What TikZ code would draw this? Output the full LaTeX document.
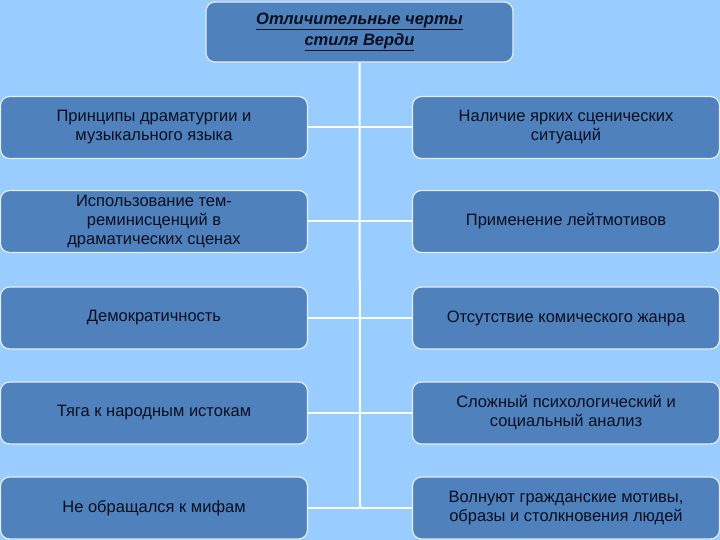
\documentclass[tikz,border=0pt]{standalone}
\usepackage{fontspec}
\setmainfont{Liberation Sans}
\definecolor{bg}{HTML}{99CCFF}
\definecolor{bx}{HTML}{4F81BD}
\definecolor{tx}{HTML}{0A0F20}
\begin{document}
\begin{tikzpicture}[x=1pt,y=-1pt,
 box/.style={draw=white!85!bx,line width=1.2pt,fill=bx,rounded corners=9pt,minimum width=307pt,minimum height=62pt,align=center,text=tx,font=\fontsize{16.5}{19}\selectfont,inner sep=1pt},
 conn/.style={white,line width=2pt}]
\fill[bg] (0,0) rectangle (720,540);
\useasboundingbox (0,0) rectangle (720,540);
\node[box,minimum width=307pt,minimum height=60pt,font=\fontsize{16.5}{21}\selectfont\bfseries\itshape] (t) at (359.5,32) {\underline{Отличительные черты}\\\underline{стиля Верди}};
\node[box] (l1) at (154,127.5) {Принципы драматургии и\\музыкального языка};
\node[box] (l2) at (154,221.5) {Использование тем-\\реминисценций в\\драматических сценах};
\node[box] (l3) at (154,318) {Демократичность};
\node[box] (l4) at (154,413) {Тяга к народным истокам};
\node[box] (l5) at (154,508) {Не обращался к мифам};
\node[box] (r1) at (566,127.5) {Наличие ярких сценических\\ситуаций};
\node[box] (r2) at (566,221.5) {Применение лейтмотивов};
\node[box] (r3) at (566,318) {Отсутствие комического жанра};
\node[box] (r4) at (566,413) {Сложный психологический и\\социальный анализ};
\node[box] (r5) at (566,508) {Волнуют гражданские мотивы,\\образы и столкновения людей};
\coordinate (e) at (360,508);
\draw[conn] (t.south) -- (e);
\foreach \i in {1,...,5}{\draw[conn] (l\i.east) -- (r\i.west);}
\end{tikzpicture}
\end{document}
